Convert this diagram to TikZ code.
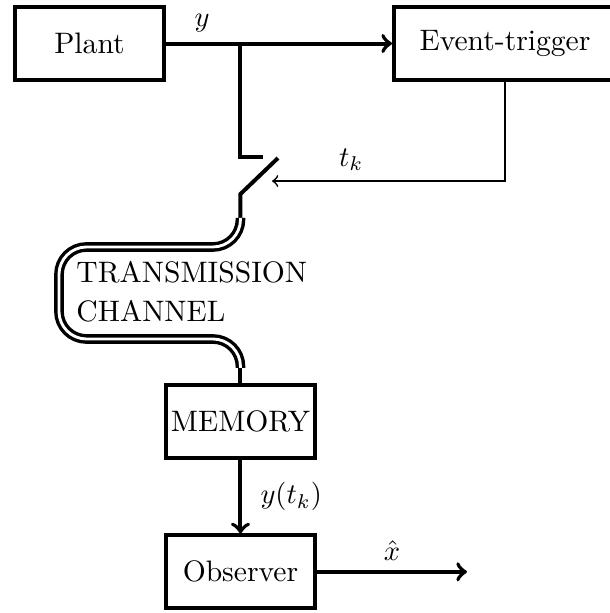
\documentclass[tikz,border=0pt]{standalone}
\usepackage{amsmath}
\usepackage{tikz}

\tikzset{
  every node/.style={font=\fontsize{10.4pt}{12.5pt}\selectfont},
  block/.style={draw, line width=1.4pt, inner xsep=1pt, minimum width=1.84cm, minimum height=0.9cm},
  wire/.style={line width=1.4pt},
  channel/.style={double, line width=1.2pt, double distance=1pt, rounded corners=0.34cm}
}

\begin{document}
\begin{tikzpicture}
\useasboundingbox (0,0) rectangle (7.519,-7.568);

% Blocks
\node[block] (plant) at (1.105,-0.537) {Plant};
\node[block, minimum width=2.741cm] (trigger) at (6.235,-0.537) {Event-trigger};
\node[block] (memory) at (2.969,-5.204) {MEMORY};
\node[block] (observer) at (2.969,-7.060) {Observer};

% Switch
\coordinate (branch) at (2.969,-0.537);
\coordinate (swtop) at (3.247,-1.938);
\coordinate (swa) at (3.432,-1.951);
\coordinate (swb) at (2.969,-2.395);
\coordinate (swin) at (3.358,-2.235);
\coordinate (chin) at (2.969,-2.691);
\coordinate (chout) at (2.969,-4.543);
\coordinate (xhatend) at (5.765,-7.060);

\draw[wire,->] (plant) -- node[pos=0.16, above] {$y$} (trigger);
\draw[wire] (branch) |- (swtop);
\draw[wire] (swa) -- (swb) -- (chin);
\draw[semithick,->] (trigger.south) |- node[pos=0.83, above] {$t_k$} (swin);

% Channel
\draw[channel] (chin) -- (2.969,-3.049) -- (0.728,-3.049) -- (0.728,-4.185)
  -- (2.969,-4.185) -- (chout);
\node[anchor=north west, align=left, inner sep=3.33pt] (chlabel) at (0.82,-3.10)
  {TRANSMISSION\\[1.2pt]CHANNEL};
\draw[wire] (chout) -- (memory);

% Output
\draw[wire,->] (memory) -- node[right=3pt] {$y(t_k)$} (observer);
\draw[wire,->] (observer) -- node[above] {$\hat{x}$} (xhatend);

\end{tikzpicture}
\end{document}
